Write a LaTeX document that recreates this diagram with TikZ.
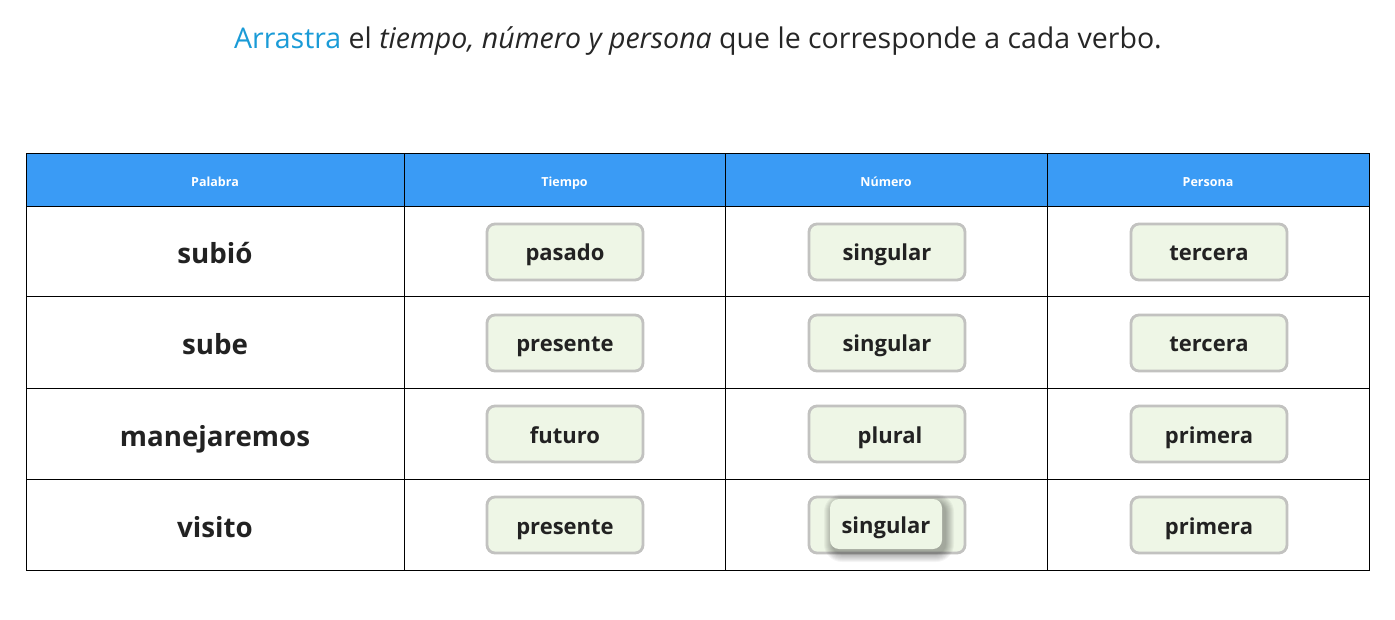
\documentclass[tikz,border=0pt]{standalone}
\usepackage{fontspec}
\setmainfont{Open Sans}
\definecolor{hdr}{HTML}{3A9BF5}
\definecolor{chipfill}{HTML}{EEF6E6}
\definecolor{chipline}{HTML}{C2C2C0}
\definecolor{txt}{HTML}{222222}
\definecolor{blue}{HTML}{1A9BD7}
\tikzset{
  x=1pt,y=-1pt,
  cellline/.style={draw=black,line width=1pt},
  hdrtext/.style={text=white,font=\fontsize{12.5}{15}\selectfont\bfseries,text height=13pt,text depth=1pt},
  word/.style={text=txt,font=\fontsize{27.7}{31}\selectfont\bfseries,text height=26pt,text depth=2pt},
  chip/.style={draw=chipline,line width=2.8pt,fill=chipfill,rounded corners=8pt,
     minimum width=156pt,minimum height=56pt,text=txt,font=\fontsize{22}{25}\selectfont\bfseries,
     inner sep=0pt,text height=19pt,text depth=1pt},
  dragchip/.style={fill=chipfill,rounded corners=9pt,minimum width=112pt,minimum height=50pt,
     text=txt,font=\fontsize{22}{25}\selectfont\bfseries,inner sep=0pt,text height=19pt,text depth=1pt},
}
\begin{document}
\begin{tikzpicture}
\useasboundingbox[fill=white] (0,0) rectangle (1395,620);
\node[font=\fontsize{28.5}{33}\selectfont,text=black!85] (title) at (698,41)
  {\textcolor{blue}{Arrastra} el \textit{tiempo, número y persona} que le corresponde a cada verbo.};
% header
\fill[hdr] (26,154) rectangle (1369,207);
\draw[cellline] (26,154) rectangle (1369,570);
\foreach \y in {207,297,388,479} \draw[cellline] (26,\y) -- (1369,\y);
\foreach \x in {404,725,1047} \draw[cellline] (\x,154) -- (\x,570);
\node[hdrtext] (h1) at (215,181) {Palabra};
\node[hdrtext] (h2) at (564.5,181) {Tiempo};
\node[hdrtext] (h3) at (886,181) {Número};
\node[hdrtext] (h4) at (1208,181) {Persona};
% words
\node[word] (w1) at (215,252) {subió};
\node[word] (w2) at (215,343) {sube};
\node[word] (w3) at (215,434) {manejaremos};
\node[word] (w4) at (215,525) {visito};
% chips
\node[chip] (t1) at (565,252) {pasado};
\node[chip] (n1) at (887,252) {singular};
\node[chip] (p1) at (1209,252) {tercera};
\node[chip] (t2) at (565,343) {presente};
\node[chip] (n2) at (887,343) {singular};
\node[chip] (p2) at (1209,343) {tercera};
\node[chip] (t3) at (565,434) {futuro};
\node[chip] (n3) at (887,434) {\hspace{6pt}plural};
\node[chip] (p3) at (1209,434) {primera};
\node[chip] (t4) at (565,525) {presente};
\node[chip] (n4) at (887,525) {};
\node[chip] (p4) at (1209,525) {primera};
% soft shadow of the dragged chip
\foreach \r in {1,...,9}
  \fill[black,opacity=0.04,rounded corners={9pt+\r pt}]
    (833-\r,503-\r) rectangle (945+\r,553+\r);
\node[dragchip] (drag) at (886,524) {singular};
\end{tikzpicture}
\end{document}
